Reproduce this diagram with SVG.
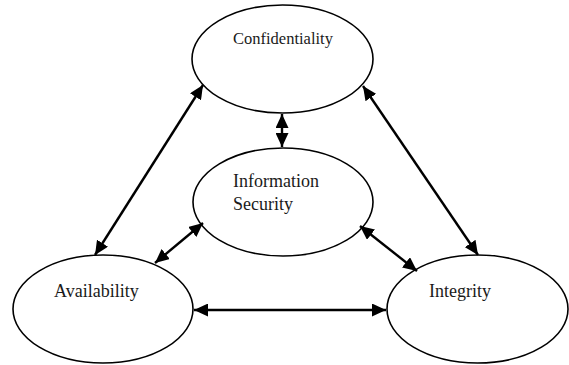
<svg xmlns="http://www.w3.org/2000/svg" width="569" height="365" viewBox="0 0 569 365">
<style>
.node ellipse{fill:#fff;stroke:#000;stroke-width:1.6}
.lbl{font-family:"Liberation Serif","Times New Roman",serif;font-size:18px;fill:#1a1a1a}
.edge{stroke:#000;stroke-width:2.4;fill:none;marker-start:url(#ah);marker-end:url(#ah)}
</style>
<defs>
<marker id="ah" markerUnits="userSpaceOnUse" markerWidth="15" markerHeight="13" refX="14" refY="6.5" orient="auto-start-reverse" viewBox="0 0 15 13">
<path d="M0,0 L14,6.5 L0,13 z" fill="#000"/>
</marker>
</defs>
<rect width="569" height="365" fill="#fff"/>
<g id="conf" class="node">
<ellipse cx="282.5" cy="59" rx="90.5" ry="54"/>
<text class="lbl" x="233" y="44" style="font-size:16.5px">Confidentiality</text>
</g>
<g id="infosec" class="node">
<ellipse cx="283" cy="202" rx="90" ry="54"/>
<text class="lbl" x="233" y="187">Information</text>
<text class="lbl" x="233" y="210">Security</text>
</g>
<g id="avail" class="node">
<ellipse cx="103" cy="309" rx="90" ry="54"/>
<text class="lbl" x="54" y="297">Availability</text>
</g>
<g id="integ" class="node">
<ellipse cx="477.5" cy="309" rx="90.5" ry="54"/>
<text class="lbl" x="429" y="297">Integrity</text>
</g>
<g id="connectors">
<line class="edge" x1="203" y1="85" x2="95" y2="255"/>
<line class="edge" x1="363" y1="86" x2="478" y2="255"/>
<line class="edge" x1="282" y1="114" x2="282" y2="147"/>
<line class="edge" x1="203" y1="223" x2="155" y2="263"/>
<line class="edge" x1="360" y1="226" x2="417" y2="271"/>
<line class="edge" x1="194" y1="310" x2="386" y2="310"/>
</g>
</svg>
